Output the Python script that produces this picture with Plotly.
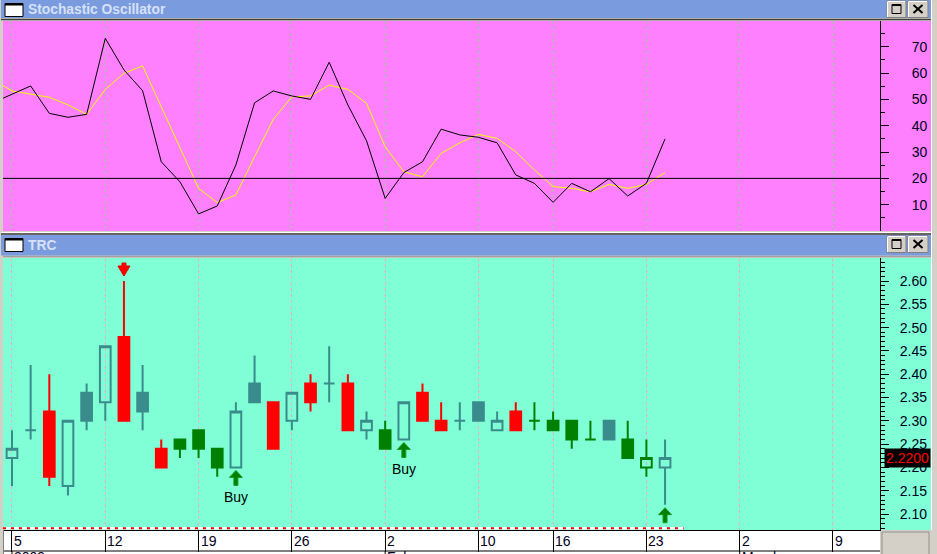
import plotly.graph_objects as go
import pandas as pd

W, H = 937, 554

# ---------------- data ----------------
calendar = pd.bdate_range("2009-01-05", "2009-03-13").drop(pd.Timestamp("2009-02-09"))
trading_days = [d.strftime("%Y-%m-%d") for d in calendar]
pos = {d: i for i, d in enumerate(trading_days)}

bar_dates = trading_days[:36]
opens  = [2.22, 2.28, 2.32, 2.16, 2.36, 2.34, 2.48, 2.36, 2.24, 2.26, 2.28, 2.24,
          2.20, 2.38, 2.34, 2.30, 2.38, 2.38, 2.38, 2.28, 2.28, 2.26, 2.36, 2.30,
          2.30, 2.34, 2.28, 2.32, 2.30, 2.30, 2.30, 2.26, 2.30, 2.26, 2.20, 2.20]
highs  = [2.28, 2.42, 2.40, 2.30, 2.38, 2.46, 2.60, 2.42, 2.26, 2.26, 2.28, 2.24,
          2.34, 2.44, 2.34, 2.36, 2.40, 2.46, 2.40, 2.32, 2.30, 2.34, 2.38, 2.34,
          2.34, 2.34, 2.32, 2.34, 2.34, 2.32, 2.30, 2.30, 2.30, 2.30, 2.26, 2.26]
lows   = [2.16, 2.26, 2.16, 2.14, 2.28, 2.30, 2.30, 2.28, 2.20, 2.22, 2.22, 2.18,
          2.20, 2.34, 2.24, 2.28, 2.32, 2.34, 2.28, 2.26, 2.24, 2.26, 2.30, 2.28,
          2.28, 2.30, 2.28, 2.28, 2.28, 2.28, 2.24, 2.26, 2.26, 2.22, 2.18, 2.12]
closes = [2.24, 2.28, 2.18, 2.30, 2.30, 2.46, 2.30, 2.32, 2.20, 2.24, 2.24, 2.20,
          2.32, 2.34, 2.24, 2.36, 2.34, 2.38, 2.28, 2.30, 2.24, 2.34, 2.30, 2.28,
          2.30, 2.30, 2.30, 2.28, 2.30, 2.28, 2.26, 2.26, 2.26, 2.22, 2.22, 2.22]
signal = ["neutral", "neutral", "bear", "neutral", "neutral", "neutral", "bear", "neutral",
          "bear", "bull", "bull", "bull", "neutral", "neutral", "bear", "neutral",
          "bear", "neutral", "bear", "neutral", "bull", "neutral", "bear", "bear",
          "neutral", "neutral", "neutral", "bear", "bull", "bull", "bull", "bull",
          "neutral", "bull", "bull", "neutral"]

# stochastic oscillator: first value is the previous session (before 5 Jan)
stoch_k = [48.8, 52.0, 55.1, 44.7, 43.2, 44.3, 73.2, 61.2, 53.3, 26.3, 18.7, 6.5, 9.5,
           25.1, 48.7, 53.2, 51.3, 50.0, 64.1, 47.9, 34.3, 12.4, 22.2, 26.3, 38.7,
           36.5, 35.6, 33.5, 21.3, 18.1, 10.9, 18.1, 14.9, 19.9, 13.3, 18.1, 35.0]
stoch_d = [57.4, 53.2, 52.0, 50.8, 47.9, 44.3, 53.8, 59.9, 62.7, 47.0, 31.4, 16.2, 10.8,
           13.7, 28.2, 42.4, 51.0, 51.3, 55.4, 53.8, 48.5, 32.0, 22.5, 20.6, 29.5,
           33.5, 36.7, 35.2, 30.1, 23.2, 16.9, 16.2, 14.9, 17.7, 16.2, 17.7, 22.2]
stoch_level = 20

tick_dates = ["2009-01-05", "2009-01-12", "2009-01-19", "2009-01-26", "2009-02-02",
              "2009-02-10", "2009-02-16", "2009-02-23", "2009-03-02", "2009-03-09"]
tick_labels = ["5", "12", "19", "26", "2", "10", "16", "23", "2", "9"]
period_dates = ["2009-01-05", "2009-02-02", "2009-03-02"]
period_labels = ["2009", "February", "March"]

buy_dates = ["2009-01-21", "2009-02-03", "2009-02-24"]
buy_texts = ["Buy", "Buy", ""]
sell_dates = ["2009-01-13"]
last_price = 2.22

# ---------------- helpers ----------------
bar_x = [pos[d] for d in bar_dates]
stoch_x = [bar_x[0] - 1] + bar_x
tick_x = [pos[d] for d in tick_dates]


def X(px):
    return px / W


def Y(py):
    return 1 - py / H


BLUE = "#7b9bdf"
TITLE_TXT = "#d6e1f7"
GRAY = "#d4d0c8"
PINK = "#ff80ff"
AQUA = "#80ffd6"
TEAL = "#3a8c8c"
COLORS = {"neutral": TEAL, "bear": "#ff0000", "bull": "#008000"}
FONT = "Liberation Sans, Arial, sans-serif"

x_range = [-0.482, 46.52]
y2_range = [2.0657, 2.6494]

fig = go.Figure()

fig.add_trace(go.Scatter(x=stoch_x, y=stoch_d, mode="lines", xaxis="x", yaxis="y",
                         line=dict(color="#ffff00", width=1), hoverinfo="skip"))
fig.add_trace(go.Scatter(x=stoch_x, y=stoch_k, mode="lines", xaxis="x", yaxis="y",
                         line=dict(color="#000000", width=1), hoverinfo="skip"))

for sig in ["neutral", "bear", "bull"]:
    idx = [i for i, s in enumerate(signal) if s == sig]
    c = COLORS[sig]
    fig.add_trace(go.Candlestick(
        x=[bar_x[i] for i in idx], open=[opens[i] for i in idx], high=[highs[i] for i in idx],
        low=[lows[i] for i in idx], close=[closes[i] for i in idx],
        xaxis="x2", yaxis="y2", whiskerwidth=0, hoverinfo="skip",
        increasing=dict(line=dict(color=c, width=2), fillcolor="rgba(0,0,0,0)"),
        decreasing=dict(line=dict(color=c, width=2), fillcolor=c)))

shapes = []


def rect(x0, y0, x1, y1, fill, layer="above", line=None):
    shapes.append(dict(type="rect", xref="paper", yref="paper", x0=X(x0), x1=X(x1),
                       y0=Y(y1), y1=Y(y0), fillcolor=fill, layer=layer,
                       line=line or dict(width=0)))


def hline(x0, x1, y, color, width=1, layer="above", dash=None):
    shapes.append(dict(type="line", xref="paper", yref="paper", x0=X(x0), x1=X(x1),
                       y0=Y(y), y1=Y(y), layer=layer,
                       line=dict(color=color, width=width, dash=dash)))


def vline(x, y0, y1, color, width=1, layer="above"):
    shapes.append(dict(type="line", xref="paper", yref="paper", x0=X(x), x1=X(x),
                       y0=Y(y0), y1=Y(y1), layer=layer, line=dict(color=color, width=width)))


# panel backgrounds
rect(3, 21, 931, 231, PINK, layer="below")
rect(3, 258, 931, 530, AQUA, layer="below")
rect(3, 530, 880, 554, "white", layer="below")
hline(1, 931, 19.5, "#404040", 1.5, layer="below")
hline(1, 931, 232.5, "white", 1, layer="below")
hline(1, 931, 234, "#404040", 1.5, layer="below")
hline(3, 931, 256.5, "#a0a0a0", 1.5, layer="below")
vline(931.5, 0, 530, "white", 1, layer="below")
# title bars
for (ty0, ty1) in [(0, 18), (235, 255.5)]:
    rect(1, ty0, 931, ty1, BLUE, layer="below")
    # window icon
    rect(5, ty0 + 3.5, 23, ty0 + 16.5, "white", line=dict(color="black", width=1))
    hline(5, 23, ty0 + 4.5, "black", 2)
    # buttons
    for bx0, bx1 in [(887, 906), (908, 928)]:
        rect(bx0, ty0 + 1, bx1, ty0 + 17.5, GRAY, line=dict(color="#808080", width=1))
        hline(bx0 + 1, bx1 - 1, ty0 + 1.5, "white", 1)
        vline(bx0 + 0.5, ty0 + 1.5, ty0 + 17, "white", 1)
    rect(892, ty0 + 4.5, 901, ty0 + 13.5, "rgba(0,0,0,0)", line=dict(color="black", width=1))
    hline(892, 901, ty0 + 5, "black", 2)
    shapes.append(dict(type="line", xref="paper", yref="paper", x0=X(913.5), x1=X(922.5),
                       y0=Y(ty0 + 5), y1=Y(ty0 + 13), line=dict(color="black", width=2)))
    shapes.append(dict(type="line", xref="paper", yref="paper", x0=X(913.5), x1=X(922.5),
                       y0=Y(ty0 + 13), y1=Y(ty0 + 5), line=dict(color="black", width=2)))

# stochastic reference level
shapes.append(dict(type="line", xref="paper", yref="y", x0=X(3), x1=X(880),
                   y0=stoch_level, y1=stoch_level, line=dict(color="black", width=1)))
# dotted marker line under the price data
shapes.append(dict(type="line", xref="x2", yref="paper", x0=x_range[0], x1=bar_x[-1] + 1,
                   y0=Y(528.3), y1=Y(528.3), line=dict(color="white", width=2.5)))
shapes.append(dict(type="line", xref="x2", yref="paper", x0=x_range[0], x1=bar_x[-1] + 1,
                   y0=Y(528.3), y1=Y(528.3), line=dict(color="red", width=2, dash="3px,5px")))
# date axis second row
hline(3, 880, 551, "black", 1)
for d in period_dates:
    shapes.append(dict(type="line", xref="x2", yref="paper", x0=pos[d], x1=pos[d],
                       y0=Y(551), y1=Y(554), line=dict(color="black", width=1)))
vline(3.5, 530, 554, "#808080", 1)
# lower right box
rect(882, 532, 929, 556, GRAY, line=dict(color="#909090", width=1))

# signal arrows, drawn as pixel-sized polygons anchored at the bar extremes
UP_ARROW = "M0,-3 L6.5,-10 L2,-10 L2,-18 L-2,-18 L-2,-10 L-6.5,-10 Z"
DOWN_ARROW = "M0,5 L6,15 L2,15 L2,18 L-2,18 L-2,15 L-6,15 Z"
for d in buy_dates:
    shapes.append(dict(type="path", xref="x2", yref="y2", xsizemode="pixel",
                       ysizemode="pixel", xanchor=pos[d], yanchor=lows[bar_dates.index(d)],
                       path=UP_ARROW, fillcolor="#008000", line=dict(color="#1a9a1a", width=1)))
for d in sell_dates:
    shapes.append(dict(type="path", xref="x2", yref="y2", xsizemode="pixel",
                       ysizemode="pixel", xanchor=pos[d], yanchor=highs[bar_dates.index(d)],
                       path=DOWN_ARROW, fillcolor="#ff0000", line=dict(color="#e00000", width=1)))

annotations = []
annotations.append(dict(text="<b>Stochastic Oscillator</b>", xref="paper", yref="paper",
                        x=X(25.5), y=Y(9), xanchor="left", yanchor="middle", showarrow=False,
                        font=dict(family=FONT, size=13.8, color=TITLE_TXT)))
annotations.append(dict(text="<b>TRC</b>", xref="paper", yref="paper",
                        x=X(25.5), y=Y(245), xanchor="left", yanchor="middle", showarrow=False,
                        font=dict(family=FONT, size=13.8, color=TITLE_TXT)))
for tx, tl in zip(tick_x, tick_labels):
    annotations.append(dict(text=tl, xref="x2", yref="paper", x=tx, y=Y(540.5),
                            xanchor="left", yanchor="middle", showarrow=False, xshift=0,
                            font=dict(family=FONT, size=14, color="#000020")))
for d, tl in zip(period_dates, period_labels):
    annotations.append(dict(text=tl, xref="x2", yref="paper", x=pos[d], y=Y(547),
                            xanchor="left", yanchor="top", showarrow=False,
                            font=dict(family=FONT, size=14, color="#000020")))
annotations.append(dict(text="2.2200", xref="paper", yref="y2", x=X(884), y=last_price,
                        xanchor="left", yanchor="middle", showarrow=False, bgcolor="black",
                        borderpad=1, font=dict(family=FONT, size=14, color="#ff0000")))
for d, t in zip(buy_dates, buy_texts):
    if t:
        annotations.append(dict(x=pos[d], y=lows[bar_dates.index(d)], xref="x2", yref="y2",
                                text=t, showarrow=False, yshift=-30,
                                font=dict(family=FONT, size=14, color="black")))

tickfont = dict(family=FONT, size=14, color="#000020")

fig.update_layout(
    width=W, height=H, autosize=False, margin=dict(l=0, r=0, t=0, b=0),
    paper_bgcolor=GRAY, plot_bgcolor="rgba(0,0,0,0)", showlegend=False,
    boxgap=0.18, hovermode=False,
    shapes=shapes, annotations=annotations,
    xaxis=dict(domain=[X(3), X(880)], range=x_range, anchor="y", tickmode="array",
               tickvals=tick_x, showticklabels=False, ticks="", showgrid=True,
               gridcolor="#a0c8a0", griddash="3px,3px", gridwidth=1, zeroline=False,
               showline=False, fixedrange=True),
    yaxis=dict(domain=[Y(231), Y(21)], range=[0.01, 79.77], anchor="x", side="right",
               tick0=10, dtick=10, ticks="outside", ticklen=8, tickcolor="black",
               showline=True, linecolor="black", linewidth=1, showgrid=False, zeroline=False,
               minor=dict(tick0=5, dtick=5, ticks="outside", ticklen=4, tickcolor="black",
                          showgrid=False),
               tickfont=tickfont, ticklabelstandoff=20),
    xaxis2=dict(domain=[X(3), X(880)], range=x_range, anchor="y2", tickmode="array",
                tickvals=tick_x, showticklabels=False, ticks="outside", ticklen=21,
                tickcolor="black", tickwidth=1, showgrid=True, gridcolor="#f4a8c8",
                griddash="3px,3px", gridwidth=1, zeroline=False, showline=True,
                linecolor="black", linewidth=1, rangeslider=dict(visible=False)),
    yaxis2=dict(domain=[Y(530), Y(258)], range=y2_range, anchor="x2", side="right",
                tick0=2.1, dtick=0.05, tickformat=".2f", ticks="outside", ticklen=8,
                tickcolor="black", showline=True, linecolor="black", linewidth=1,
                showgrid=False, zeroline=False,
                minor=dict(dtick=0.01, ticks="outside", ticklen=4, tickcolor="black",
                           showgrid=False),
                tickfont=tickfont, ticklabelstandoff=8),
)

fig.write_html("out.html", config={"displayModeBar": False},
               post_script="document.body.style.margin='0';document.body.style.overflow='hidden';")
